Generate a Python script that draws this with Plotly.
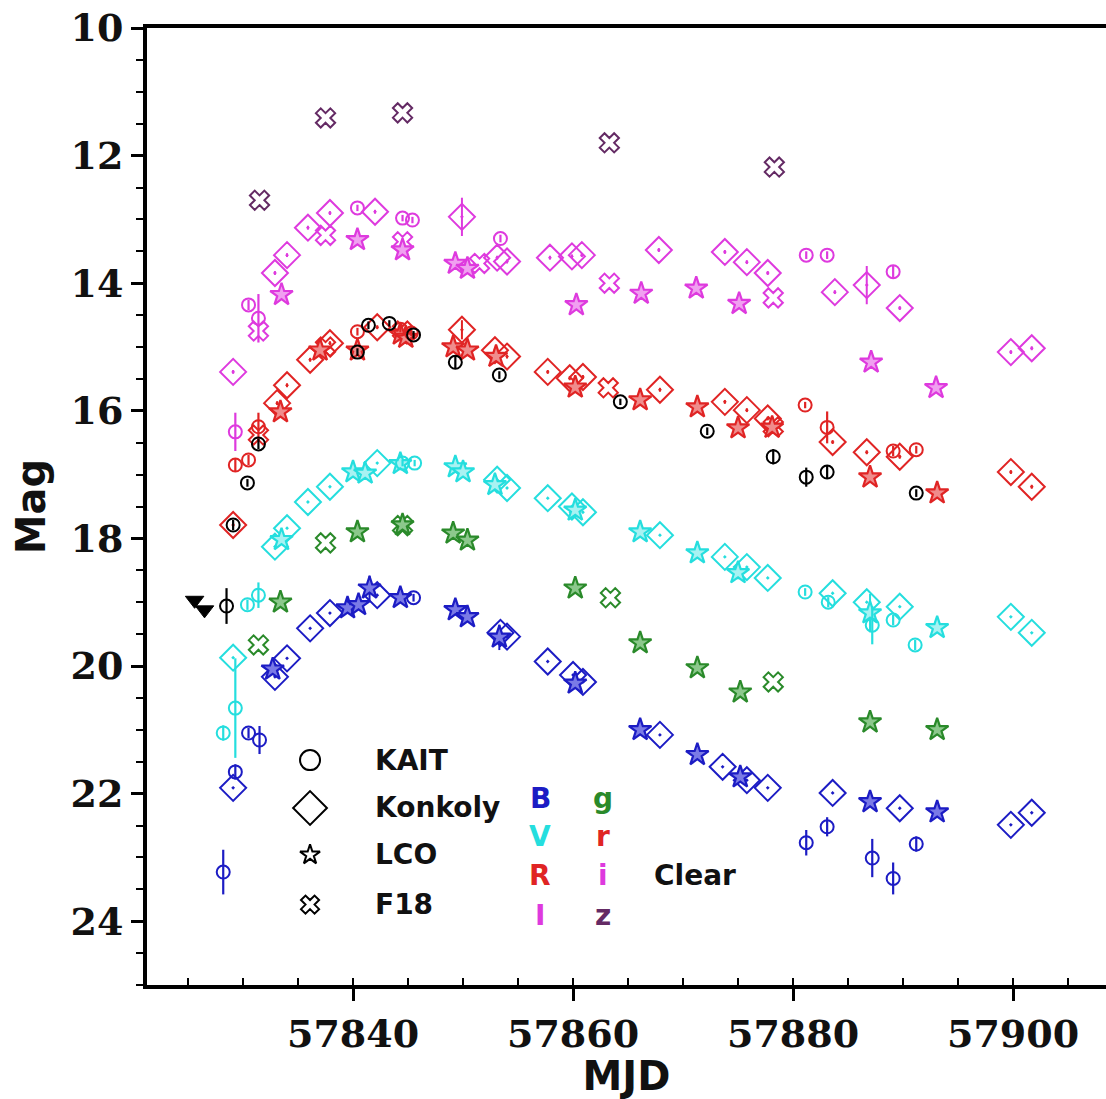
import plotly.graph_objects as go

# ---------------- data (MJD, magnitude, error) ----------------
# KAIT (open circles)
kait_B_mjd = [57828.2, 57829.3, 57830.5, 57831.5, 57845.5, 57881.2, 57883.1, 57887.2, 57889.1, 57891.2]
kait_B_mag = [23.23, 21.66, 21.05, 21.16, 18.93, 22.77, 22.52, 23.01, 23.33, 22.79]
kait_B_err = [0.35, 0.12, 0.08, 0.22, 0.06, 0.20, 0.15, 0.30, 0.25, 0.12]

kait_V_mjd = [57828.2, 57829.3, 57830.4, 57831.4, 57844.5, 57845.6, 57881.1, 57883.2, 57887.2, 57889.1, 57891.1]
kait_V_mag = [21.05, 20.66, 19.04, 18.89, 16.82, 16.82, 18.84, 19.00, 19.36, 19.28, 19.67]
kait_V_err = [0.12, 0.78, 0.08, 0.20, 0.05, 0.05, 0.06, 0.08, 0.30, 0.08, 0.08]

kait_R_mjd = [57829.3, 57830.5, 57831.4, 57840.4, 57844.3, 57845.3, 57881.1, 57883.1, 57889.1, 57891.2]
kait_R_mag = [16.85, 16.77, 16.25, 14.76, 14.72, 14.78, 15.91, 16.26, 16.63, 16.61]
kait_R_err = [0.10, 0.08, 0.22, 0.06, 0.05, 0.05, 0.05, 0.25, 0.08, 0.06]

kait_I_mjd = [57829.3, 57830.5, 57831.4, 57840.4, 57844.5, 57845.4, 57853.4, 57881.2, 57883.1, 57889.1]
kait_I_mag = [16.33, 14.34, 14.55, 12.82, 12.98, 13.01, 13.30, 13.56, 13.56, 13.82]
kait_I_err = [0.30, 0.08, 0.38, 0.05, 0.05, 0.05, 0.06, 0.06, 0.06, 0.10]

kait_C_mjd = [57828.5, 57829.1, 57830.4, 57831.4, 57840.4, 57841.4, 57843.3, 57845.5, 57849.3, 57853.3,
              57864.3, 57872.2, 57878.2, 57881.2, 57883.1, 57891.2]
kait_C_mag = [19.06, 17.79, 17.13, 16.52, 15.08, 14.66, 14.63, 14.81, 15.24, 15.44,
              15.86, 16.32, 16.72, 17.04, 16.96, 17.29]
kait_C_err = [0.28, 0.08, 0.06, 0.08, 0.06, 0.06, 0.05, 0.06, 0.10, 0.06,
              0.05, 0.06, 0.12, 0.15, 0.10, 0.06]

# Konkoly (open diamonds)
konk_B_mjd = [57829.1, 57832.9, 57834.0, 57836.1, 57837.9, 57842.2, 57853.4, 57854.0, 57857.7, 57860.0,
              57860.9, 57867.9, 57873.6, 57875.8, 57877.7, 57883.6, 57889.7, 57899.8, 57901.7]
konk_B_mag = [21.91, 20.17, 19.88, 19.41, 19.17, 18.89, 19.48, 19.54, 19.93, 20.14,
              20.25, 21.08, 21.58, 21.79, 21.91, 21.99, 22.23, 22.49, 22.30]

konk_V_mjd = [57829.1, 57832.9, 57834.0, 57835.9, 57837.9, 57842.2, 57853.1, 57854.0, 57857.7, 57859.9,
              57860.9, 57867.9, 57873.8, 57875.8, 57877.7, 57883.6, 57886.7, 57889.7, 57899.8, 57901.7]
konk_V_mag = [19.87, 18.13, 17.84, 17.43, 17.19, 16.82, 17.08, 17.21, 17.37, 17.50,
              17.59, 17.95, 18.29, 18.45, 18.62, 18.86, 19.00, 19.07, 19.23, 19.48]

konk_R_mjd = [57829.1, 57833.1, 57834.0, 57836.1, 57837.9, 57842.2, 57849.9, 57852.9, 57854.0, 57857.7,
              57859.7, 57860.9, 57867.9, 57873.8, 57875.8, 57877.7, 57883.6, 57886.7, 57889.7, 57899.8, 57901.7]
konk_R_mag = [17.79, 15.88, 15.60, 15.20, 14.94, 14.69, 14.73, 15.05, 15.15, 15.39,
              15.49, 15.47, 15.67, 15.86, 15.99, 16.12, 16.49, 16.65, 16.72, 16.96, 17.19]
konk_R_err = [0.03, 0.03, 0.03, 0.03, 0.03, 0.03, 0.15, 0.03, 0.03, 0.03,
              0.03, 0.03, 0.03, 0.03, 0.03, 0.03, 0.03, 0.03, 0.03, 0.03, 0.03]

konk_I_mjd = [57829.1, 57832.9, 57834.0, 57835.9, 57837.9, 57842.0, 57849.9, 57853.1, 57854.0, 57857.9,
              57859.9, 57860.8, 57867.8, 57873.8, 57875.8, 57877.7, 57883.8, 57886.7, 57889.7, 57899.8, 57901.7]
konk_I_mag = [15.39, 13.84, 13.56, 13.13, 12.90, 12.88, 12.96, 13.60, 13.66, 13.60,
              13.58, 13.56, 13.48, 13.51, 13.67, 13.84, 14.14, 14.03, 14.39, 15.08, 15.02]
konk_I_err = [0.03, 0.03, 0.03, 0.03, 0.03, 0.03, 0.30, 0.03, 0.03, 0.03,
              0.03, 0.03, 0.03, 0.03, 0.03, 0.03, 0.03, 0.30, 0.03, 0.03, 0.03]

# LCO (stars)
lco_B_mjd = [57832.7, 57839.5, 57840.5, 57841.5, 57844.3, 57849.3, 57850.4, 57853.3, 57860.2, 57866.1,
             57871.3, 57875.2, 57887.0, 57893.1]
lco_B_mag = [20.05, 19.09, 19.04, 18.78, 18.93, 19.12, 19.23, 19.55, 20.27, 21.00,
             21.39, 21.74, 22.13, 22.29]
lco_B_err = [0.03, 0.03, 0.03, 0.20, 0.03, 0.03, 0.03, 0.20, 0.03, 0.03,
             0.03, 0.03, 0.03, 0.03]

lco_V_mjd = [57833.5, 57840.0, 57841.1, 57844.3, 57849.3, 57850.0, 57852.9, 57860.2, 57866.1, 57871.3,
             57875.0, 57887.0, 57893.1]
lco_V_mag = [18.02, 16.96, 16.98, 16.83, 16.88, 16.96, 17.16, 17.56, 17.90, 18.23,
             18.54, 19.17, 19.40]
lco_V_err = [0.03, 0.03, 0.03, 0.03, 0.03, 0.03, 0.03, 0.03, 0.03, 0.03,
             0.10, 0.30, 0.03]

lco_g_mjd = [57833.4, 57840.4, 57844.5, 57849.1, 57850.4, 57860.2, 57866.1, 57871.3, 57875.2, 57887.0, 57893.1]
lco_g_mag = [19.00, 17.90, 17.79, 17.92, 18.03, 18.78, 19.64, 20.03, 20.41, 20.88, 21.00]

lco_r_mjd = [57833.4, 57837.0, 57840.4, 57844.3, 57844.8, 57849.1, 57850.4, 57853.0, 57860.2, 57866.1,
             57871.3, 57875.0, 57878.1, 57887.0, 57893.1]
lco_r_mag = [16.02, 15.05, 15.05, 14.80, 14.85, 15.00, 15.05, 15.15, 15.63, 15.83,
             15.94, 16.27, 16.26, 17.04, 17.29]

lco_i_mjd = [57833.5, 57840.4, 57844.5, 57849.3, 57850.4, 57860.3, 57866.2, 57871.2, 57875.1, 57887.1, 57893.0]
lco_i_mag = [14.18, 13.32, 13.48, 13.69, 13.77, 14.34, 14.16, 14.08, 14.32, 15.24, 15.64]

# F18 (crosses)
f18_g_mjd = [57831.4, 57837.5, 57844.5, 57863.4, 57878.2]
f18_g_mag = [19.67, 18.07, 17.80, 18.93, 20.25]
f18_r_mjd = [57831.4, 57837.5, 57844.5, 57863.2, 57878.2]
f18_r_mag = [16.38, 15.00, 14.75, 15.64, 16.25]
f18_i_mjd = [57831.4, 57837.5, 57844.5, 57851.5, 57863.3, 57878.2]
f18_i_mag = [14.75, 13.25, 13.35, 13.69, 14.00, 14.23]
f18_z_mjd = [57831.5, 57837.5, 57844.5, 57863.3, 57878.3]
f18_z_mag = [12.70, 11.41, 11.33, 11.80, 12.18]

# Clear-band upper limits
ul_mjd = [57825.6, 57826.5]
ul_mag = [18.97, 19.12]

x_ticks = [57840, 57860, 57880, 57900]
y_ticks = [10, 12, 14, 16, 18, 20, 22, 24]

# ---------------- styling ----------------
COL = {"B": "#1c1cc4", "V": "#25dede", "R": "#e02424", "I": "#de3ade",
       "g": "#2a8a2a", "r": "#e02424", "i": "#de3ade", "z": "#642a64", "C": "#000000"}
TINT = {"B": "#7a7ae6", "V": "#a8f2f2", "R": "#f08c8c", "I": "#f0a0f0",
        "g": "#8cc88c", "r": "#f08c8c", "i": "#f0a0f0", "z": "#b090b0", "C": "#888888"}

fig = go.Figure()


def add_konkoly(x, y, band, err=None):
    fig.add_trace(go.Scatter(
        x=x, y=y, mode="markers", showlegend=False,
        error_y=dict(type="data", array=err, color=COL[band], thickness=2, width=0, visible=err is not None),
        marker=dict(symbol="diamond-open-dot", size=20, color=COL[band], line=dict(width=2, color=COL[band]))))


def add_kait(x, y, err, band):
    fig.add_trace(go.Scatter(
        x=x, y=y, mode="markers", showlegend=False,
        error_y=dict(type="data", array=err, color=COL[band], thickness=2.2, width=0),
        marker=dict(symbol="circle-open", size=13, color=COL[band], line=dict(width=2, color=COL[band]))))


def add_lco(x, y, band, err=None):
    fig.add_trace(go.Scatter(
        x=x, y=y, mode="markers", showlegend=False,
        error_y=dict(type="data", array=err, color=COL[band], thickness=2, width=0, visible=err is not None),
        marker=dict(symbol="star", size=17, color=TINT[band], line=dict(width=2.2, color=COL[band]))))


def add_f18(x, y, band):
    fig.add_trace(go.Scatter(
        x=x, y=y, mode="markers", showlegend=False,
        marker=dict(symbol="x-open", size=17, color=COL[band], line=dict(width=2, color=COL[band]))))


add_konkoly(konk_B_mjd, konk_B_mag, "B")
add_konkoly(konk_V_mjd, konk_V_mag, "V")
add_konkoly(konk_R_mjd, konk_R_mag, "R", konk_R_err)
add_konkoly(konk_I_mjd, konk_I_mag, "I", konk_I_err)

add_f18(f18_g_mjd, f18_g_mag, "g")
add_f18(f18_r_mjd, f18_r_mag, "r")
add_f18(f18_i_mjd, f18_i_mag, "i")
add_f18(f18_z_mjd, f18_z_mag, "z")

add_lco(lco_B_mjd, lco_B_mag, "B", lco_B_err)
add_lco(lco_V_mjd, lco_V_mag, "V", lco_V_err)
add_lco(lco_g_mjd, lco_g_mag, "g")
add_lco(lco_r_mjd, lco_r_mag, "r")
add_lco(lco_i_mjd, lco_i_mag, "i")

add_kait(kait_B_mjd, kait_B_mag, kait_B_err, "B")
add_kait(kait_V_mjd, kait_V_mag, kait_V_err, "V")
add_kait(kait_R_mjd, kait_R_mag, kait_R_err, "R")
add_kait(kait_I_mjd, kait_I_mag, kait_I_err, "I")
add_kait(kait_C_mjd, kait_C_mag, kait_C_err, "C")

fig.add_trace(go.Scatter(x=ul_mjd, y=ul_mag, mode="markers", showlegend=False,
                         marker=dict(symbol="triangle-down", size=16, color="black",
                                     line=dict(width=1, color="black"))))

# ---------------- in-plot key (instrument symbols) ----------------
key_names = ["KAIT", "Konkoly", "LCO", "F18"]
key_symbols = ["circle-open", "diamond-open", "star-open", "x-open"]
key_sizes = [20, 26, 15, 16]
key_x = 0.170
key_y = [0.235, 0.185, 0.136, 0.084]
for name, sym, sz, yy in zip(key_names, key_symbols, key_sizes, key_y):
    fig.add_trace(go.Scatter(x=[key_x], y=[yy], xaxis="x2", yaxis="y2", mode="markers",
                             showlegend=False, hoverinfo="skip",
                             marker=dict(symbol=sym, size=sz, color="black", line=dict(width=2, color="black"))))
    fig.add_annotation(x=0.236, y=yy, xref="paper", yref="paper", text=name, showarrow=False,
                       xanchor="left", yanchor="middle",
                       font=dict(family="DejaVu Sans", size=28, color="#111111", weight=700))

band_keys = [("B", 0.410, 0.195), ("V", 0.410, 0.155), ("R", 0.410, 0.114), ("I", 0.410, 0.073),
             ("g", 0.4755, 0.195), ("r", 0.4755, 0.155), ("i", 0.4755, 0.114), ("z", 0.4755, 0.073)]
for b, xx, yy in band_keys:
    fig.add_annotation(x=xx, y=yy, xref="paper", yref="paper", text=b, showarrow=False,
                       xanchor="center", yanchor="middle",
                       font=dict(family="DejaVu Sans", size=28, color=COL[b], weight=700))
fig.add_annotation(x=0.5266, y=0.114, xref="paper", yref="paper", text="Clear", showarrow=False,
                   xanchor="left", yanchor="middle",
                   font=dict(family="DejaVu Sans", size=28, color="#111111", weight=700))

tickfont = dict(family="DejaVu Serif", size=38, color="#111111", weight=700)
titlefont = dict(family="DejaVu Sans", size=40, color="#111111", weight=700)

fig.update_layout(
    width=1106, height=1099,
    margin=dict(l=147, r=0, t=28, b=114),
    paper_bgcolor="white", plot_bgcolor="white",
    xaxis=dict(range=[57821.27, 57908.45], tickvals=x_ticks, tickformat="d",
               ticks="outside", ticklen=12, tickwidth=3, tickcolor="black",
               showline=True, linewidth=4, linecolor="black", mirror=True,
               showgrid=False, zeroline=False, automargin=False, ticklabeloverflow="allow",
               minor=dict(dtick=5, ticks="inside", ticklen=7, tickwidth=2, tickcolor="black", showgrid=False),
               tickfont=tickfont,
               title=dict(text="MJD", font=titlefont, standoff=6)),
    yaxis=dict(range=[25, 10], tickvals=y_ticks,
               ticks="outside", ticklen=12, tickwidth=3, tickcolor="black",
               showline=True, linewidth=4, linecolor="black", mirror=False,
               showgrid=False, zeroline=False, automargin=False, ticklabeloverflow="allow",
               minor=dict(dtick=0.5, ticks="outside", ticklen=7, tickwidth=2, tickcolor="black", showgrid=False),
               tickfont=tickfont,
               title=dict(text="Mag", font=titlefont, standoff=14)),
    xaxis2=dict(overlaying="x", range=[0, 1], visible=False, fixedrange=True),
    yaxis2=dict(overlaying="y", range=[0, 1], visible=False, fixedrange=True),
)

# remove the browser's default 8 px body margin so the figure fills the window exactly
fig.write_html("out.html", config={"displayModeBar": False},
               post_script="document.body.style.margin='0px';")
